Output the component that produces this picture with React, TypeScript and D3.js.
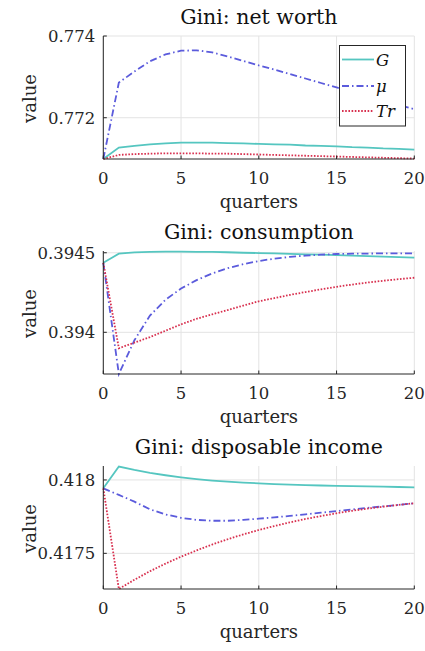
import React, { useEffect, useRef } from "react";
import * as d3 from "d3";

const quarters = [0, 1, 2, 3, 4, 5, 6, 7, 8, 9, 10, 11, 12, 13, 14, 15, 16, 17, 18, 19, 20];
const xTicks = [0, 5, 10, 15, 20];

const titles = ["Gini: net worth", "Gini: consumption", "Gini: disposable income"];

// net worth
const worthG = [0.77099, 0.77127, 0.77131, 0.77135, 0.77137, 0.77139, 0.77139, 0.77139, 0.77138, 0.77137, 0.77136,
  0.77135, 0.77134, 0.77132, 0.77131, 0.7713, 0.77128, 0.77127, 0.77125, 0.77124, 0.77122];
const worthMu = [0.77099, 0.77286, 0.77313, 0.77338, 0.77355, 0.77364, 0.77365, 0.7736, 0.7735, 0.77339, 0.77328,
  0.77318, 0.77307, 0.77296, 0.77285, 0.77274, 0.77263, 0.77253, 0.77242, 0.77231, 0.77221];
const worthTr = [0.77099, 0.77109, 0.77111, 0.77112, 0.77113, 0.77113, 0.77113, 0.77112, 0.77112, 0.77111, 0.7711,
  0.77109, 0.77108, 0.77107, 0.77106, 0.77105, 0.77104, 0.77103, 0.77102, 0.77101, 0.771];

// consumption
const consG = [0.394437, 0.394494, 0.394502, 0.394506, 0.394507, 0.394507, 0.394506, 0.394505, 0.394503, 0.3945, 0.394498,
  0.394496, 0.394493, 0.39449, 0.394488, 0.394485, 0.394482, 0.394479, 0.394476, 0.394472, 0.394469];
const consMu = [0.394437, 0.393738, 0.39395, 0.394105, 0.394205, 0.394275, 0.394328, 0.39437, 0.394403, 0.394428, 0.394448,
  0.394463, 0.394474, 0.394482, 0.394488, 0.394492, 0.394494, 0.394495, 0.394496, 0.394496, 0.394496];
const consTr = [0.394437, 0.3939, 0.393935, 0.39397, 0.39401, 0.39405, 0.394085, 0.394113, 0.39414, 0.394168, 0.394195,
  0.394215, 0.394235, 0.394253, 0.39427, 0.394286, 0.3943, 0.394313, 0.394324, 0.394334, 0.394343];

// disposable income
const incG = [0.417943, 0.418091, 0.418068, 0.418048, 0.418032, 0.418018, 0.418006, 0.417996, 0.417988, 0.417982, 0.417977,
  0.417972, 0.417968, 0.417965, 0.417962, 0.41796, 0.417958, 0.417956, 0.417954, 0.417952, 0.41795];
const incMu = [0.417943, 0.417898, 0.417852, 0.4178, 0.417765, 0.417742, 0.417728, 0.417722, 0.417722, 0.417728, 0.417736,
  0.417745, 0.417755, 0.417766, 0.417777, 0.417788, 0.417799, 0.41781, 0.41782, 0.41783, 0.417841];
const incTr = [0.417943, 0.417257, 0.41732, 0.417378, 0.41743, 0.417477, 0.41752, 0.41756, 0.417596, 0.417629, 0.417659,
  0.417686, 0.417711, 0.417734, 0.417754, 0.417773, 0.41779, 0.417805, 0.417818, 0.41783, 0.417841];

const yDomains: [number, number][] = [[0.77099, 0.774], [0.393738, 0.394511], [0.417257, 0.418095]];
const yTickValues = [[0.772, 0.774], [0.394, 0.3945], [0.4175, 0.418]];
const yTickLabels = [["0.772", "0.774"], ["0.394", "0.3945"], ["0.4175", "0.418"]];

const seriesNames = ["G", "μ", "Tr"];
const panelData = [
  [worthG, worthMu, worthTr],
  [consG, consMu, consTr],
  [incG, incMu, incTr],
];

const COLORS = ["#55c6c0", "#5b5bdc", "#d8304f"];
const DASHES = [null, "7,3,1.5,3", "1.6,1.6"];
const FONT = "DejaVu Serif, serif";

const W = 425;
const H = 651;
const panelTops = [36, 251, 466];
const plotH = 123;
const plotLeft = 103.3;
const plotRight = 414.3;

const App: React.FC = () => {
  const svgRef = useRef<SVGSVGElement | null>(null);

  useEffect(() => {
    if (!svgRef.current) return;
    const svg = d3.select(svgRef.current);
    svg.selectAll("*").remove();

    const x = d3.scaleLinear().domain([0, 20]).range([plotLeft, plotRight]);

    panelData.forEach((series, p) => {
      const top = panelTops[p];
      const bottom = top + plotH;
      const y = d3.scaleLinear().domain(yDomains[p]).range([bottom, top]);
      const g = svg.append("g");

      // grid
      xTicks.forEach(t => {
        g.append("line")
          .attr("x1", x(t)).attr("x2", x(t))
          .attr("y1", top).attr("y2", bottom)
          .attr("stroke", "#e3e3e3").attr("stroke-width", 1);
      });
      yTickValues[p].forEach(t => {
        g.append("line")
          .attr("x1", plotLeft).attr("x2", plotRight)
          .attr("y1", y(t)).attr("y2", y(t))
          .attr("stroke", "#e3e3e3").attr("stroke-width", 1);
      });

      // series
      const line = d3.line<number>()
        .x((_, i) => x(quarters[i]))
        .y(d => y(d));
      series.forEach((vals, s) => {
        const path = g.append("path")
          .datum(vals)
          .attr("d", line)
          .attr("fill", "none")
          .attr("stroke", COLORS[s])
          .attr("stroke-width", 1.8);
        if (DASHES[s]) path.attr("stroke-dasharray", DASHES[s]!);
      });

      // axes
      g.append("line")
        .attr("x1", plotLeft).attr("x2", plotLeft)
        .attr("y1", top).attr("y2", bottom)
        .attr("stroke", "#262626").attr("stroke-width", 1);
      g.append("line")
        .attr("x1", plotLeft).attr("x2", plotRight)
        .attr("y1", bottom).attr("y2", bottom)
        .attr("stroke", "#262626").attr("stroke-width", 1);

      xTicks.forEach(t => {
        g.append("line")
          .attr("x1", x(t)).attr("x2", x(t))
          .attr("y1", bottom).attr("y2", bottom - 3.5)
          .attr("stroke", "#262626");
        g.append("text")
          .attr("x", x(t))
          .attr("y", bottom + 24.5)
          .attr("text-anchor", "middle")
          .attr("font-family", FONT)
          .attr("font-size", 16.5)
          .attr("fill", "#262626")
          .text(String(t));
      });

      yTickValues[p].forEach((t, i) => {
        g.append("line")
          .attr("x1", plotLeft).attr("x2", plotLeft + 3.5)
          .attr("y1", y(t)).attr("y2", y(t))
          .attr("stroke", "#262626");
        g.append("text")
          .attr("x", plotLeft - 8)
          .attr("y", y(t) + 6)
          .attr("text-anchor", "end")
          .attr("font-family", FONT)
          .attr("font-size", 16.5)
          .attr("fill", "#262626")
          .text(yTickLabels[p][i]);
      });

      // title
      g.append("text")
        .attr("x", (plotLeft + plotRight) / 2)
        .attr("y", top - 11.7)
        .attr("text-anchor", "middle")
        .attr("font-family", FONT)
        .attr("font-size", 20.5)
        .attr("fill", "#111")
        .text(titles[p]);

      // x label
      g.append("text")
        .attr("x", (plotLeft + plotRight) / 2)
        .attr("y", bottom + 49)
        .attr("text-anchor", "middle")
        .attr("font-family", FONT)
        .attr("font-size", 18)
        .attr("fill", "#262626")
        .text("quarters");

      // y label
      g.append("text")
        .attr("transform", `translate(35.5,${(top + bottom) / 2 + 1}) rotate(-90)`)
        .attr("text-anchor", "middle")
        .attr("font-family", FONT)
        .attr("font-size", 18)
        .attr("fill", "#262626")
        .text("value");

      // legend in first panel
      if (p === 0) {
        const lg = g.append("g");
        lg.append("rect")
          .attr("x", 339.5).attr("y", 45.5)
          .attr("width", 66).attr("height", 80.5)
          .attr("fill", "white")
          .attr("stroke", "#262626").attr("stroke-width", 1);
        const rows = [59.5, 86, 111];
        seriesNames.forEach((name, s) => {
          const ln = lg.append("line")
            .attr("x1", 342).attr("x2", 374)
            .attr("y1", rows[s]).attr("y2", rows[s])
            .attr("stroke", COLORS[s]).attr("stroke-width", 1.8);
          if (DASHES[s]) ln.attr("stroke-dasharray", DASHES[s]!);
          lg.append("text")
            .attr("x", 376)
            .attr("y", rows[s] + 6)
            .attr("font-family", FONT)
            .attr("font-style", "italic")
            .attr("font-size", 16.5)
            .attr("fill", "#111")
            .text(name);
        });
      }
    });
  }, []);

  return (
    <svg
      ref={svgRef}
      width={W}
      height={H}
      viewBox={`0 0 ${W} ${H}`}
      style={{ position: "absolute", left: 0, top: 0, background: "white" }}
    />
  );
};

export default App;
